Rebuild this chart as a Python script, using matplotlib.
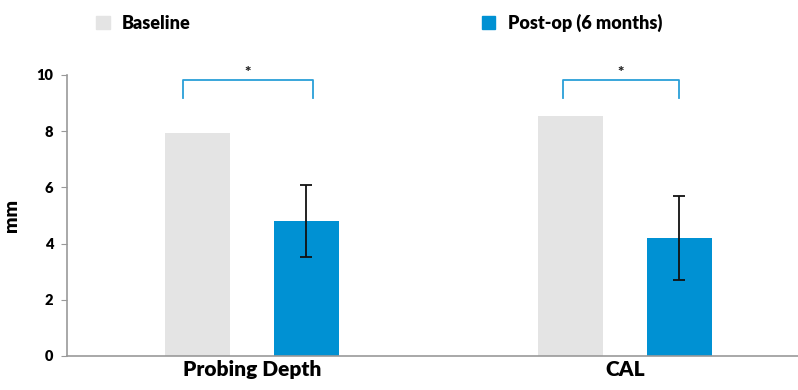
import matplotlib.pyplot as plt
from matplotlib.patches import Patch
import numpy as np

plt.rcParams['font.family'] = ['Lato', 'DejaVu Sans']

# data
categories = ['Probing Depth', 'CAL']
baseline = [7.95, 8.55]
postop = [4.8, 4.2]
postop_err = [1.28, 1.5]
# significance brackets (left/right x offsets from category centre)
bracket_left = [-0.185, -0.166]
bracket_right = [0.164, 0.145]
bracket_top = 9.82
bracket_bottom = 9.18

gray = '#e4e4e4'
blue = '#0091d3'
bracket_color = '#2a9fd8'
wt = 'heavy'

fig = plt.figure(figsize=(7.98, 3.9), dpi=100)
ax = fig.add_axes([0.084, 0.0872, 0.916, 0.7205])

x = np.arange(len(categories))
w = 0.174
off = 0.146
ax.bar(x - off, baseline, width=w, color=gray)
ax.bar(x + off, postop, width=w, color=blue)
ax.errorbar(x + off, postop, yerr=postop_err, fmt='none', ecolor='#111111',
            elinewidth=1.3, capsize=4, capthick=1.3)

# brackets with stars
for i in range(len(categories)):
    xl = x[i] + bracket_left[i]
    xr = x[i] + bracket_right[i]
    ax.plot([xl, xl, xr, xr], [bracket_bottom, bracket_top, bracket_top, bracket_bottom],
            color=bracket_color, lw=1.3, clip_on=False)
    ax.text((xl + xr) / 2, bracket_top + 0.02, '*', ha='center', va='bottom',
            fontsize=11, fontweight=wt, color='#222222')

ax.set_xlim(-0.496, 1.464)
ax.set_ylim(0, 10)
ax.set_yticks([0, 2, 4, 6, 8, 10])
ax.set_xticks(x)
ax.set_xticklabels(categories, fontsize=15, fontweight=wt)
ax.tick_params(axis='x', length=0, pad=3)
ax.tick_params(axis='y', length=4, color='#999999', labelsize=10.5, pad=6)
for lab in ax.get_yticklabels():
    lab.set_fontweight(wt)
ax.set_ylabel('mm', fontsize=14, fontweight=wt, labelpad=12)

for s in ['top', 'right']:
    ax.spines[s].set_visible(False)
for s in ['left', 'bottom']:
    ax.spines[s].set_color('#999999')
    ax.spines[s].set_linewidth(1.2)

handles = [Patch(color=gray, label='Baseline'), Patch(color=blue, label='Post-op (6 months)')]
leg = fig.legend(handles=handles, loc='upper left', bbox_to_anchor=(0.1, 1.007), ncol=2,
                 frameon=False, prop={'size': 13, 'weight': wt},
                 handlelength=0.75, handleheight=0.75, handletextpad=0.7, columnspacing=16.1)

fig.savefig('out.png', dpi=100)
